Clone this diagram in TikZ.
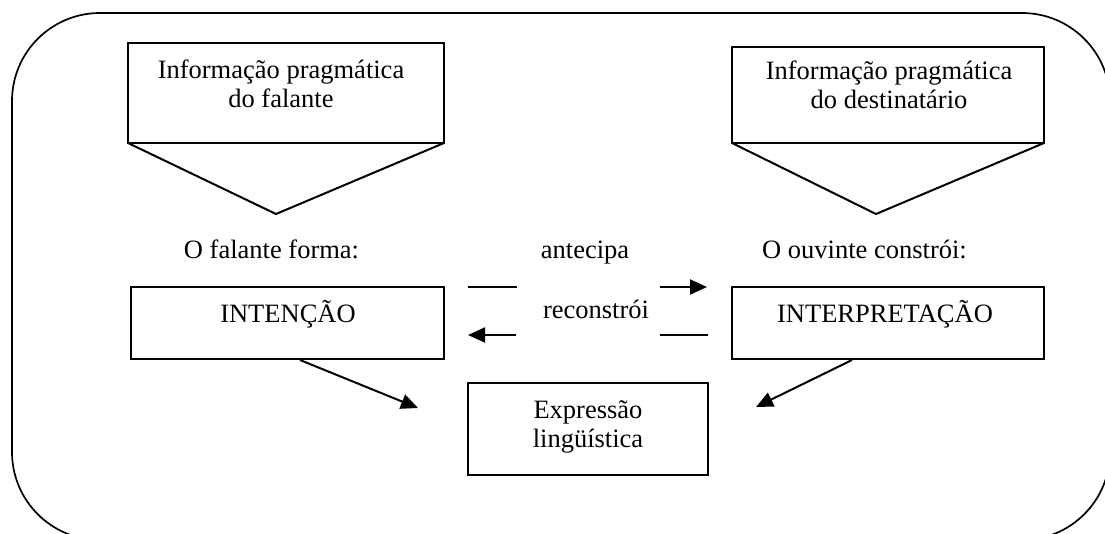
\documentclass[tikz,border=0pt]{standalone}
\usepackage{fontspec}
\setmainfont{Liberation Serif}
\usetikzlibrary{arrows.meta,calc}
\begin{document}
\begin{tikzpicture}[x=1pt,y=-1pt,
  line/.style={line width=2pt},
  arr/.style={line width=2pt,-{Triangle[length=17pt,width=15pt]}},
  txt/.style={font=\fontsize{26.5}{29}\selectfont, inner sep=0pt},
  box/.style={draw, line width=2pt, inner sep=0pt}]
\clip (0,0) rectangle (1105,533);
% outer frame
\draw[line width=1.7pt, rounded corners=88pt] (12,13) rectangle (1110,540);
% callout left
\coordinate (la) at (128,43);
\coordinate (lb) at (444,43);
\coordinate (lc) at (444,143);
\coordinate (ld) at (128,143);
\coordinate (lp) at (276,214);
\draw[line, line join=miter] (ld) -- (la) -- (lb) -- (lc) -- cycle;
\draw[line, line join=miter] (ld) -- (lp) -- (lc);
\node[txt, align=center, anchor=base] (infoF) at (281,107) {Informação pragmática\\do falante};
% callout right
\coordinate (ra) at (732,47);
\coordinate (rb) at (1044,47);
\coordinate (rc) at (1044,143);
\coordinate (rd) at (732,143);
\coordinate (rp) at (876,214);
\draw[line, line join=miter] (rd) -- (ra) -- (rb) -- (rc) -- cycle;
\draw[line, line join=miter] (rd) -- (rp) -- (rc);
\node[txt, align=center, anchor=base] (infoD) at (889,108) {Informação pragmática\\do destinatário};
% row labels
\node[txt, anchor=base] (falante) at (271.5,258) {O falante forma:};
\node[txt, anchor=base] (antecipa) at (585,258) {antecipa};
\node[txt, anchor=base] (ouvinte) at (864.5,258) {O ouvinte constrói:};
% boxes
\node[box, minimum width=313pt, minimum height=72pt] (intencao) at (287.5,323) {};
\node[txt, anchor=base] (tintencao) at (288,322) {INTENÇÃO};
\node[box, minimum width=312pt, minimum height=72pt] (interp) at (888,323) {};
\node[txt, anchor=base] (tinterp) at (885,322) {INTERPRETAÇÃO};
\node[box, minimum width=240pt, minimum height=92pt] (expr) at (588,429) {};
\node[txt, align=center, anchor=base] (texpr) at (588,447) {Expressão\\lingüística};
% middle connectors
\node[txt, anchor=base] (reconstroi) at (596,318) {reconstrói};
\coordinate (a1) at (468,287);
\coordinate (a2) at (517,287);
\coordinate (a3) at (660,287);
\coordinate (a4) at (707,287);
\draw[line] (a1) -- (a2);
\draw[arr] (a3) -- (a4);
\coordinate (r1) at (708,335);
\coordinate (r2) at (660,335);
\coordinate (r3) at (516,335);
\coordinate (r4) at (468,335);
\draw[line] (r1) -- (r2);
\draw[arr] (r3) -- (r4);
% diagonal arrows
\coordinate (i0) at ($(intencao.south)+(12.5,0)$);
\coordinate (i1) at (418,408);
\draw[arr] (i0) -- (i1);
\coordinate (p0) at ($(interp.south)+(-36,0)$);
\coordinate (p1) at (756,407);
\draw[arr] (p0) -- (p1);
\end{tikzpicture}
\end{document}
